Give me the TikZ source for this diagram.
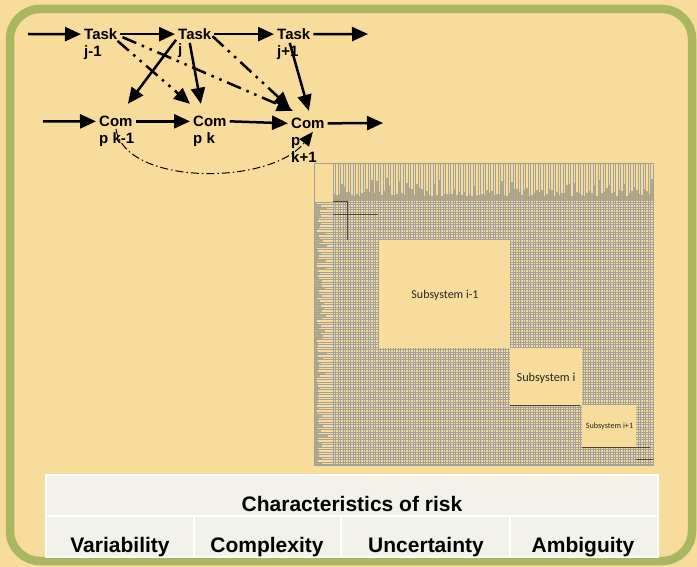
\documentclass[tikz,border=0pt]{standalone}
\usepackage{fontspec}
\setmainfont{Liberation Sans}
\newfontfamily\calib{Carlito}
\usetikzlibrary{arrows.meta,calc}
\definecolor{cream}{HTML}{F7DC9B}
\definecolor{frameg}{HTML}{A9B761}
\definecolor{gridc}{HTML}{A3A19B}
\definecolor{blobc}{HTML}{A89C78}
\definecolor{tabfill}{HTML}{F2F2EB}
\definecolor{darkl}{HTML}{4A4536}
\begin{document}
\begin{tikzpicture}[x=1pt,y=-1pt,
 lbl/.style={font=\fontsize{15}{17}\selectfont\bfseries, inner sep=3pt, anchor=base west},
 arr/.style={line width=2.5pt, -{Triangle[length=16pt,width=14pt]}},
 ddot/.style={line width=2.5pt, dash pattern=on 15pt off 6pt on 2.5pt off 6pt on 2.5pt off 6pt, -{Triangle[length=16pt,width=14pt]}},
 curv/.style={line width=1pt, dash pattern=on 8pt off 3pt on 1.5pt off 3pt, -{Triangle[length=14pt,width=12pt]}},
 subt/.style={font=\calib, text=black!85, inner sep=0pt},
 tab/.style={font=\fontsize{21}{24}\selectfont\bfseries, anchor=base, inner sep=0pt},
 gline/.style={gridc, line width=0.85pt},
 dline/.style={darkl, line width=1pt}
]
\useasboundingbox (0,0) rectangle (697,567);
\fill[cream] (0,0) rectangle (697,567);
\draw[frameg, line width=8.5pt, rounded corners=30pt] (10,9) rectangle (692,561);

% ---------- matrix ----------
\pgfmathsetseed{7}
\foreach \i in {0,...,127}{
  \pgfmathsetmacro\xx{333+2.5*\i}
  \pgfmathsetmacro\hh{5+20*rnd*rnd}
  \fill[blobc, opacity=0.8] (\xx+0.5,201) rectangle (\xx+2.1,201-\hh);
}
\foreach \j in {0,...,104}{
  \pgfmathsetmacro\yy{202+2.5*\j}
  \pgfmathsetmacro\ll{2+13*rnd*rnd}
  \fill[blobc, opacity=0.75] (315,\yy+0.5) rectangle (315+\ll,\yy+2.1);
}
\foreach \i in {0,...,128}{
  \pgfmathsetmacro\xx{333+2.5*\i}
  \draw[gline] (\xx,163) -- (\xx,465);
}
\foreach \j in {0,...,105}{
  \pgfmathsetmacro\yy{202+2.5*\j}
  \draw[gline] (314,\yy) -- (653,\yy);
}
\draw[gline] (314,163) rectangle (653,465);
\fill[cream] (379,240) rectangle (510,348);
\fill[cream] (510,348) rectangle (582,405);
\fill[cream] (582,405) rectangle (636,447);
\draw[dline] (333,202) -- (347,202) -- (347,240);
\draw[darkl, line width=0.8pt] (333,214) -- (378,214);
\draw[dline] (510,405) -- (580,405);
\draw[dline] (582,447) -- (650,447);
\draw[dline] (636,459) -- (653,459);
\node[subt, font=\calib\fontsize{12}{14}\selectfont] (s1) at (445,295) {Subsystem i-1};
\node[subt, font=\calib\fontsize{12.3}{14}\selectfont] (s2) at (546,378) {Subsystem i};
\node[subt, font=\calib\fontsize{8.2}{10}\selectfont] (s3) at (609.5,426) {Subsystem i+1};

% ---------- flow diagram ----------
\node[lbl] (tj1) at (81,39.5) {Task};
\node[lbl] (tj1s) at (81,57) {j-1};
\node[lbl] (tj) at (175,39.5) {Task};
\node[lbl] (tjs) at (175,55) {j};
\node[lbl] (tjp) at (274,39.5) {Task};
\node[lbl] (tjps) at (274,57) {j+1};
\node[lbl] (ck1) at (96,126.5) {Com};
\node[lbl] (ck1s) at (96,143.5) {p k-1};
\node[lbl] (ck) at (190,126.5) {Com};
\node[lbl] (cks) at (190,143.5) {p k};
\node[lbl] (ckp) at (288,128.5) {Com};
\node[lbl] (ckps) at (288,145.5) {p};
\node[lbl] (ckpt) at (288,162.5) {k+1};
\coordinate (in1) at (28,34);
\coordinate (out1) at (368,34);
\coordinate (in2) at (43,121.5);
\coordinate (out2) at (383,123);

\draw[arr] (in1) -- (tj1.west);
\draw[arr] (tj1.east) -- (tj.west);
\draw[arr] (tj.east) -- (tjp.west);
\draw[arr] (tjp.east) -- (out1);
\draw[arr] (in2) -- (ck1.west);
\draw[arr] (ck1.east) -- (ck.west);
\draw[arr] (ck.east) -- (ckp.west);
\draw[arr] (ckp.east) -- (out2);

\draw[arr] ($(tj.south west)+(1,-3)$) -- ($(ck1.north)+(12,-9)$);
\draw[arr] ($(tj.south)+(-5,0)$) -- ($(ck.north)+(-9,-9)$);
\draw[arr] ($(tjp.south)+(-4,0)$) -- ($(ckp.north)+(1,-4)$);

\draw[ddot] ($(tj1.south east)+(-3,-2)$) -- ($(ck.north west)+(0,-9)$);
\draw[ddot] ($(tj1.east)+(2,3)$) -- ($(ckp.north)+(-15,-4)$);
\draw[ddot] ($(tj.east)+(-2,2)$) -- ($(ckp.north)+(-18,-7)$);

\draw[curv] ($(ck1.south)+(0,-1)$) .. controls (125,186) and (270,186) .. ($(ckp.south)+(5,0)$);

% ---------- table ----------
\fill[tabfill] (46,475) rectangle (658,557);
\draw[white, line width=2pt] (46,475) rectangle (658,557)
  (46,516) -- (658,516)
  (194,516) -- (194,557)
  (341,516) -- (341,557)
  (510,516) -- (510,557);
\node[tab] (chr) at (352,511) {Characteristics of risk};
\node[tab] (c1) at (120,552) {Variability};
\node[tab] (c2) at (267,552) {Complexity};
\node[tab] (c3) at (426,552) {Uncertainty};
\node[tab] (c4) at (583,552) {Ambiguity};
\end{tikzpicture}
\end{document}
